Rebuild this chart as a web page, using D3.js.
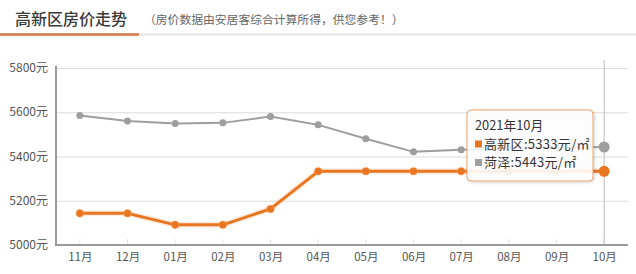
<!DOCTYPE html>
<html>
<head>
<meta charset="utf-8">
<script src="https://cdn.jsdelivr.net/npm/d3@7"></script>
<style>
  html, body { margin: 0; padding: 0; background: #fff; }
  svg { display: block; font-family: "Noto Sans CJK SC", "Noto Sans", sans-serif; }
</style>
</head>
<body>
<svg id="chart" width="636" height="274"></svg>
<script>
const months = ['11月','12月','01月','02月','03月','04月','05月','06月','07月','08月','09月','10月'];
const gaoxin = [5143,5143,5091,5091,5163,5333,5333,5333,5333,5333,5333,5333];
const heze   = [5585,5560,5549,5552,5581,5543,5480,5421,5430,5436,5440,5443];
const yTicks = [5000,5200,5400,5600,5800];
const titleText = '高新区房价走势';
const subtitleText = '（房价数据由安居客综合计算所得，供您参考！）';
const tipTitle = '2021年10月';
const seriesNames = ['高新区','菏泽'];
const unit = '元/㎡';

const svg = d3.select('#chart');
const orange = '#e8751f';
const grayC = '#9e9e9e';

// title area
svg.append('line').attr('x1',0).attr('x2',636).attr('y1',34.5).attr('y2',34.5)
  .attr('stroke','#e6e6e6').attr('stroke-width',2);
svg.append('line').attr('x1',0).attr('x2',139).attr('y1',34.5).attr('y2',34.5)
  .attr('stroke','#d98a5c').attr('stroke-width',3);
svg.append('text').attr('x',15).attr('y',25).attr('font-size',16).attr('font-weight',500)
  .attr('fill','#3a3a3a').text(titleText);
svg.append('text').attr('x',144).attr('y',24).attr('font-size',11.8)
  .attr('fill','#666').text(subtitleText);

const x = d3.scalePoint().domain(months).range([56,628]).padding(0.5);
const y = d3.scaleLinear().domain([5000,5800]).range([245,68]);

// gridlines
svg.append('g').selectAll('line').data(yTicks.slice(1)).join('line')
  .attr('x1',57).attr('x2',628).attr('y1',d=>y(d)+0.5).attr('y2',d=>y(d)+0.5)
  .attr('stroke','#dcdcdc').attr('stroke-width',1);

// y axis labels
svg.append('g').selectAll('text').data(yTicks).join('text')
  .attr('x',48).attr('y',d=>y(d)).attr('dy','0.35em').attr('text-anchor','end')
  .attr('font-size',12).attr('fill','#555').text(d=>d+'元');

// x axis
const xAxis = d3.axisBottom(x).tickSize(0).tickPadding(8);
const gx = svg.append('g').attr('transform','translate(0,245)').call(xAxis);
gx.select('.domain').remove();
gx.selectAll('text').attr('font-size',11.5).attr('fill','#555')
  .attr('font-family','"Noto Sans CJK SC", sans-serif');
// small inner ticks
svg.append('g').selectAll('line').data(months).join('line')
  .attr('x1',d=>x(d)).attr('x2',d=>x(d)).attr('y1',239).attr('y2',244)
  .attr('stroke','#e4e4e4').attr('stroke-width',1);

// crosshair
const last = months[months.length-1];
svg.append('line').attr('x1',x(last)).attr('x2',x(last)).attr('y1',60).attr('y2',245)
  .attr('stroke','#bdbdbd').attr('stroke-width',1);

// axes lines
svg.append('line').attr('x1',56).attr('x2',56).attr('y1',66).attr('y2',246)
  .attr('stroke','#9a9a9a').attr('stroke-width',2);
svg.append('line').attr('x1',55).attr('x2',628).attr('y1',245).attr('y2',245)
  .attr('stroke','#9a9a9a').attr('stroke-width',2);

const line = d3.line().x((d,i)=>x(months[i])).y(d=>y(d));

// heze (gray)
svg.append('path').datum(heze).attr('d',line).attr('fill','none')
  .attr('stroke',grayC).attr('stroke-width',2);
svg.append('g').selectAll('circle').data(heze).join('circle')
  .attr('cx',(d,i)=>x(months[i])).attr('cy',d=>y(d))
  .attr('r',(d,i)=> i===heze.length-1 ? 5.5 : 3.5).attr('fill',grayC);

// gaoxin (orange) with glow
svg.append('path').datum(gaoxin).attr('d',line).attr('fill','none')
  .attr('stroke','rgba(245,170,110,0.22)').attr('stroke-width',6).attr('stroke-linejoin','round');
svg.append('path').datum(gaoxin).attr('d',line).attr('fill','none')
  .attr('stroke',orange).attr('stroke-width',3).attr('stroke-linejoin','round');
svg.append('g').selectAll('circle').data(gaoxin).join('circle')
  .attr('cx',(d,i)=>x(months[i])).attr('cy',d=>y(d))
  .attr('r',(d,i)=> i===gaoxin.length-1 ? 5.5 : 3.8).attr('fill',orange)
  .attr('stroke','rgba(245,170,110,0.3)').attr('stroke-width',(d,i)=> i===gaoxin.length-1 ? 0 : 1.5);

// tooltip
const defs = svg.append('defs');
const f = defs.append('filter').attr('id','sh').attr('x','-20%').attr('y','-20%').attr('width','140%').attr('height','140%');
f.append('feDropShadow').attr('dx',1).attr('dy',1).attr('stdDeviation',1.5).attr('flood-color','#000').attr('flood-opacity',0.2);
const tip = svg.append('g').attr('transform','translate(467,110)');
tip.append('rect').attr('width',126).attr('height',71).attr('rx',4)
  .attr('fill','rgba(255,255,255,0.88)').attr('stroke','#eba36a').attr('stroke-width',1)
  .attr('filter','url(#sh)');
tip.append('text').attr('x',8).attr('y',20).attr('font-size',12.8).attr('fill','#333').text(tipTitle);
const rows = [[orange, seriesNames[0]+':'+gaoxin[gaoxin.length-1]+unit],
              [grayC, seriesNames[1]+':'+heze[heze.length-1]+unit]];
rows.forEach((r,i)=>{
  const yy = 38.5 + i*18.5;
  tip.append('rect').attr('x',8).attr('y',yy-8).attr('width',7).attr('height',7).attr('fill',r[0]);
  tip.append('text').attr('x',17).attr('y',yy).attr('font-size',13).attr('letter-spacing',0.3)
    .attr('fill','#333').text(r[1]);
});
</script>
</body>
</html>
